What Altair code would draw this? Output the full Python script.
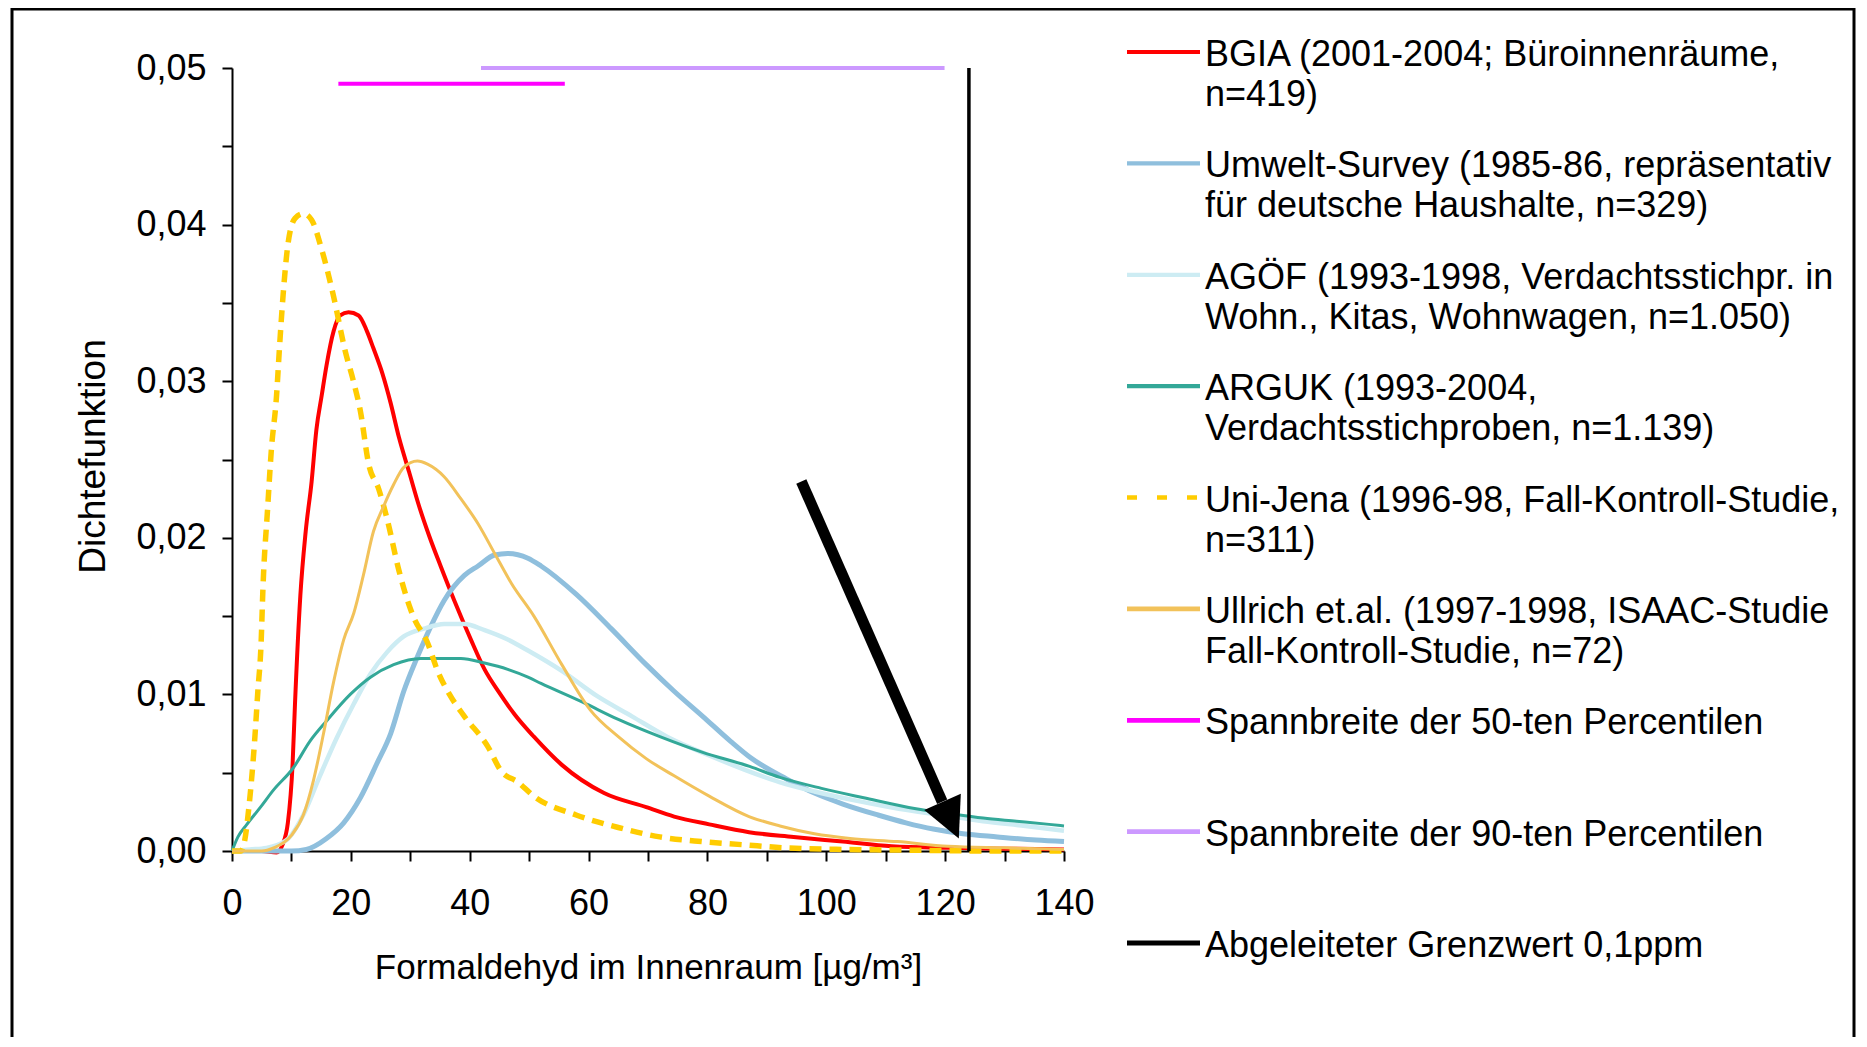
import altair as alt
import pandas as pd

# ---------------- data ----------------
BGIA_X = [0, 5, 7.5, 8.5, 9.4, 10.2, 10.6, 11.5, 12.4, 13.4, 14.2, 15.1, 15.9, 17.1, 18.2, 19.6, 21.3, 22.7,
          23.8, 25.3, 26.7, 28.1, 29.8, 31.5, 33.2, 35.1, 37.4, 40.2, 42.5, 45.0, 47.6, 50.8, 55.5, 62.6,
          69.7, 74.4, 80.3, 87.0, 94.5, 102.8, 111.0, 120.5, 130.0, 140.0]
BGIA_Y = [0, 0, -0.0001, 0.0004, 0.0018, 0.0056, 0.0094, 0.0163, 0.0204, 0.0236, 0.0269, 0.0291, 0.0310,
          0.0332, 0.0342, 0.0344, 0.0342, 0.0332, 0.0321, 0.0305, 0.0286, 0.0264, 0.0242, 0.0220, 0.0201,
          0.0182, 0.0160, 0.0135, 0.0116, 0.0101, 0.0087, 0.0073, 0.0055, 0.0037, 0.0028, 0.0022, 0.0017,
          0.0012, 0.0009, 0.0006, 0.0003, 0.0002, 0.00015, 0.0001]

UMW_X = [0, 5, 10, 12.5, 15.9, 18.8, 21.6, 24.4, 26.7, 28.9, 31.2, 33.4, 35.7, 39.1, 41.4, 44.2, 46.4, 49.8,
         52.0, 57.9, 63.8, 69.7, 74.4, 79.2, 83.9, 87.1, 93.3, 98.0, 102.8, 108.7, 113.4, 118.0, 123.0,
         128.8, 135.3, 140.0]
UMW_Y = [0, 0, 0, 0.0001, 0.0008, 0.0018, 0.0034, 0.0056, 0.0075, 0.0102, 0.0124, 0.0143, 0.0160, 0.0176,
         0.0182, 0.0189, 0.0190, 0.0187, 0.0182, 0.0164, 0.0142, 0.0119, 0.0102, 0.0086, 0.0070, 0.0060,
         0.0046, 0.0037, 0.0030, 0.0023, 0.0018, 0.0014, 0.0011, 0.0009, 0.0007, 0.0006]

AGO_X = [0, 3, 5.8, 9.2, 12.0, 14.8, 17.6, 20.5, 23.3, 26.1, 28.9, 32.3, 35.7, 39.1, 42.5, 46.4, 49.8, 55.5,
         61.4, 67.3, 73.2, 80.3, 86.2, 92.1, 98.0, 105.2, 112.2, 119.3, 126.4, 133.5, 140.0]
AGO_Y = [0, 0.0001, 0.0002, 0.0007, 0.0023, 0.0048, 0.0072, 0.0094, 0.0113, 0.0127, 0.0137, 0.0142, 0.0145,
         0.0145, 0.0141, 0.0135, 0.0128, 0.0115, 0.0099, 0.0086, 0.0073, 0.0061, 0.0052, 0.0044, 0.0038,
         0.0032, 0.0027, 0.0023, 0.0019, 0.0016, 0.0013]

ARG_X = [0, 1, 2.5, 4.8, 7.0, 10.3, 13.1, 15.9, 19.9, 23.3, 27.2, 31.8, 35.7, 38.5, 42.5, 46.4, 49.8, 52.0,
         59.0, 65.0, 72.0, 79.2, 87.1, 92.2, 99.2, 106.3, 115.1, 120.5, 126.4, 132.0, 137.5, 140.0]
ARG_Y = [0, 0.0009, 0.0017, 0.0028, 0.0039, 0.0053, 0.0070, 0.0083, 0.0100, 0.0111, 0.0119, 0.0123, 0.0123,
         0.0123, 0.0120, 0.0116, 0.0111, 0.0107, 0.0095, 0.0084, 0.0073, 0.0063, 0.0054, 0.0047, 0.0040,
         0.0034, 0.0027, 0.0024, 0.0021, 0.0019, 0.0017, 0.0016]

JENA_X = [0, 1.5, 2.1, 2.9, 3.8, 4.35, 4.9, 5.2, 6.0, 6.6, 7.5, 8.0, 8.6, 9.4, 10.6, 12.0, 13.4, 15.1, 17.1,
          19.0, 20.5, 21.6, 23.0, 24.7, 26.1, 28.1, 29.8, 30.6, 32.9, 34.6, 36.6, 39.1, 43.0, 45.3, 48.1,
          50.8, 57.9, 65.0, 72.0, 79.0, 86.0, 93.0, 103.0, 115.0, 128.0, 140.0]
JENA_Y = [0, 0, 0.0006, 0.0030, 0.0070, 0.0102, 0.0133, 0.0167, 0.0219, 0.0255, 0.0291, 0.0322, 0.0355,
          0.0387, 0.0404, 0.0407, 0.0403, 0.0384, 0.0354, 0.0320, 0.0299, 0.0281, 0.0247, 0.0231, 0.0212,
          0.0179, 0.0157, 0.0149, 0.0133, 0.0115, 0.0100, 0.0086, 0.0067, 0.0051, 0.0044, 0.0035, 0.0023,
          0.0015, 0.0009, 0.0006, 0.0004, 0.0002, 0.0001, 0.00005, 0, 0]

ULL_X = [0, 5, 7, 10, 12, 13.7, 15.4, 17.1, 18.8, 20.5, 22.1, 23.8, 25.5, 27.2, 28.9, 31.2, 32.9, 35.7, 38.5,
         41.4, 44.2, 47.0, 50.8, 55.5, 60.3, 65.0, 69.7, 74.4, 80.3, 87.0, 92.2, 98.0, 104.0, 112.0, 120.5,
         130.0, 140.0]
ULL_Y = [0, 0, 0.0002, 0.0010, 0.0023, 0.0045, 0.0075, 0.0108, 0.0135, 0.0152, 0.0176, 0.0204, 0.0220,
         0.0234, 0.0245, 0.0249, 0.0247, 0.0239, 0.0225, 0.0209, 0.0190, 0.0171, 0.0150, 0.0119, 0.0090,
         0.0073, 0.0059, 0.0048, 0.0035, 0.0022, 0.0016, 0.0011, 0.0008, 0.0006, 0.0003, 0.0002, 0.0001]

P50_X = [17.9, 56.0]      # range of the 50th percentiles
P50_Y = 0.049
P90_X = [41.9, 119.9]     # range of the 90th percentiles
P90_Y = 0.050
LIMIT_X = 124.0           # 0.1 ppm
LIMIT_Y = [0.0, 0.05]
ARROW_TAIL = [95.8, 0.0236]
ARROW_NECK = [119.5, 0.00315]
ARROW_TIP = [122.3, 0.0008]

LEG_KEYS = ["bgia", "umwelt", "agoef", "arguk", "jena", "ullrich", "p50", "p90", "limit"]
LEG_TEXT = [
    "BGIA (2001-2004; Büroinnenräume,\nn=419)",
    "Umwelt-Survey (1985-86, repräsentativ\nfür deutsche Haushalte, n=329)",
    "AGÖF (1993-1998, Verdachtsstichpr. in\nWohn., Kitas, Wohnwagen, n=1.050)",
    "ARGUK (1993-2004,\nVerdachtsstichproben, n=1.139)",
    "Uni-Jena (1996-98, Fall-Kontroll-Studie,\nn=311)",
    "Ullrich et.al. (1997-1998, ISAAC-Studie\nFall-Kontroll-Studie, n=72)",
    "Spannbreite der 50-ten Percentilen",
    "Spannbreite der 90-ten Percentilen",
    "Abgeleiteter Grenzwert 0,1ppm",
]

# ---------------- styles ----------------
COLORS = {"bgia": "#FF0000", "umwelt": "#8FBFDD", "agoef": "#CDECF3", "arguk": "#33A898",
          "jena": "#FFCC00", "ullrich": "#F2C25A", "p50": "#FF00FF", "p90": "#CC99FF", "limit": "#000000"}
WIDTHS = {"bgia": 4, "umwelt": 5, "agoef": 4.5, "arguk": 3, "jena": 5.5, "ullrich": 3,
          "p50": 4, "p90": 4, "limit": 4.5}
LEG_DASH = {"jena": [10, 20]}

FONT = "Liberation Sans"
X_SCALE = alt.Scale(domain=[0, 140], nice=False, zero=False)
Y_SCALE = alt.Scale(domain=[0, 0.05], nice=False, zero=False)

X_AXIS = alt.Axis(
    values=list(range(0, 141, 10)),
    labelExpr="datum.value % 20 == 0 ? datum.label : ''",
    title="Formaldehyd im Innenraum [µg/m³]",
    grid=False, tickSize=10, tickWidth=2, tickColor="black",
    domainColor="black", domainWidth=2,
    labelFont=FONT, labelFontSize=36, labelColor="black", labelPadding=25,
    labelFlush=False, labelOverlap=False, labelBound=False,
    titleFont=FONT, titleFontSize=35, titleFontWeight="normal", titleColor="black",
    titleY=99,
)
Y_AXIS = alt.Axis(
    values=[i * 0.005 for i in range(11)],
    labelExpr="round(datum.value * 200) % 2 == 0 ? replace(format(datum.value, '.2f'), '.', ',') : ''",
    title="Dichtefunktion",
    grid=False, tickSize=10, tickWidth=2, tickColor="black",
    domainColor="black", domainWidth=2,
    labelFont=FONT, labelFontSize=36, labelColor="black", labelPadding=16,
    labelFlush=False, labelOverlap=False, labelBound=False,
    titleFont=FONT, titleFontSize=37, titleFontWeight="normal", titleColor="black",
    titleX=-120, titleY=388, titleAngle=270, titleAlign="center", titleBaseline="bottom",
)


def enc_x(field="x"):
    return alt.X(f"{field}:Q", scale=X_SCALE, axis=X_AXIS)


def enc_y(field="y"):
    return alt.Y(f"{field}:Q", scale=Y_SCALE, axis=Y_AXIS)


def curve(xs, ys, key, dash=None):
    df = pd.DataFrame({"x": xs, "y": ys})
    kw = dict(color=COLORS[key], strokeWidth=WIDTHS[key], interpolate="monotone",
              strokeJoin="round", strokeCap="butt")
    if dash:
        kw["strokeDash"] = dash
    return alt.Chart(df).mark_line(**kw).encode(x=enc_x(), y=enc_y())


layers = [
    curve(BGIA_X, BGIA_Y, "bgia"),
    curve(UMW_X, UMW_Y, "umwelt"),
    curve(AGO_X, AGO_Y, "agoef"),
    curve(ARG_X, ARG_Y, "arguk"),
    curve(JENA_X, JENA_Y, "jena", dash=[12, 8]),
    curve(ULL_X, ULL_Y, "ullrich"),
]

# percentile ranges
for xs, yv, key in [(P50_X, P50_Y, "p50"), (P90_X, P90_Y, "p90")]:
    df = pd.DataFrame({"x": [xs[0]], "x2": [xs[1]], "y": [yv]})
    layers.append(alt.Chart(df).mark_rule(color=COLORS[key], strokeWidth=WIDTHS[key], strokeCap="butt")
                  .encode(x=enc_x(), x2="x2:Q", y=enc_y()))

# limit value line
df_lim = pd.DataFrame({"x": [LIMIT_X], "y": [LIMIT_Y[0]], "y2": [LIMIT_Y[1]]})
layers.append(alt.Chart(df_lim).mark_rule(color="black", strokeWidth=3.5)
              .encode(x=enc_x(), y=enc_y(), y2="y2:Q"))

# arrow
df_shaft = pd.DataFrame({"x": [ARROW_TAIL[0]], "y": [ARROW_TAIL[1]],
                         "x2": [ARROW_NECK[0]], "y2": [ARROW_NECK[1]]})
layers.append(alt.Chart(df_shaft).mark_rule(color="black", strokeWidth=11, strokeCap="butt")
              .encode(x=enc_x(), y=enc_y(), x2="x2:Q", y2="y2:Q"))
df_tip = pd.DataFrame({"x": [ARROW_TIP[0]], "y": [ARROW_TIP[1]]})
layers.append(alt.Chart(df_tip).mark_point(shape="M0,0L-0.5,-1L0.5,-1Z", filled=True, color="black",
                                           opacity=1, size=6400, angle=336, strokeWidth=0)
              .encode(x=enc_x(), y=enc_y()))

main = alt.layer(*layers)

# ---------------- legend ----------------
leg_df = pd.DataFrame({"key": LEG_KEYS, "pos": list(range(len(LEG_KEYS))), "label": LEG_TEXT})
LEG_Y = alt.Y("pos:Q", scale=alt.Scale(domain=[0, 8], range=[-16, 875]), axis=None)
leg_rules = alt.Chart(leg_df).mark_rule(strokeCap="butt").encode(
    x=alt.value(895), x2=alt.value(968), y=LEG_Y,
    color=alt.Color("key:N", scale=alt.Scale(domain=LEG_KEYS, range=[COLORS[k] for k in LEG_KEYS]),
                    legend=None),
    strokeWidth=alt.StrokeWidth("key:N", scale=alt.Scale(domain=LEG_KEYS,
                                                        range=[WIDTHS[k] for k in LEG_KEYS]), legend=None),
    strokeDash=alt.StrokeDash("key:N", scale=alt.Scale(domain=LEG_KEYS,
                                                      range=[LEG_DASH.get(k, [1, 0]) for k in LEG_KEYS]),
                              legend=None),
)
leg_text = alt.Chart(leg_df).mark_text(
    align="left", baseline="line-top", lineBreak="\n", fontSize=36, lineHeight=40, dy=-16,
    font=FONT, color="black",
).encode(x=alt.value(973), y=LEG_Y, text="label:N")
legend = alt.layer(leg_rules, leg_text)

# outer frame
frame = alt.Chart(pd.DataFrame({"a": [0]})).mark_rect(filled=False, stroke="black", strokeWidth=3).encode(
    x=alt.value(-220), x2=alt.value(1622), y=alt.value(-59), y2=alt.value(1100))

chart = alt.layer(main, legend, frame).resolve_scale(y="independent").properties(
    width=832, height=783,
    padding={"left": 224, "top": 60, "right": 795, "bottom": 186},
    autosize=alt.AutoSizeParams(type="none"),
    background="white",
).configure(
    font=FONT,
    view=alt.ViewConfig(strokeWidth=0, stroke="transparent"),
)

chart.save("out.html", embed_options={"renderer": "svg", "actions": False})
